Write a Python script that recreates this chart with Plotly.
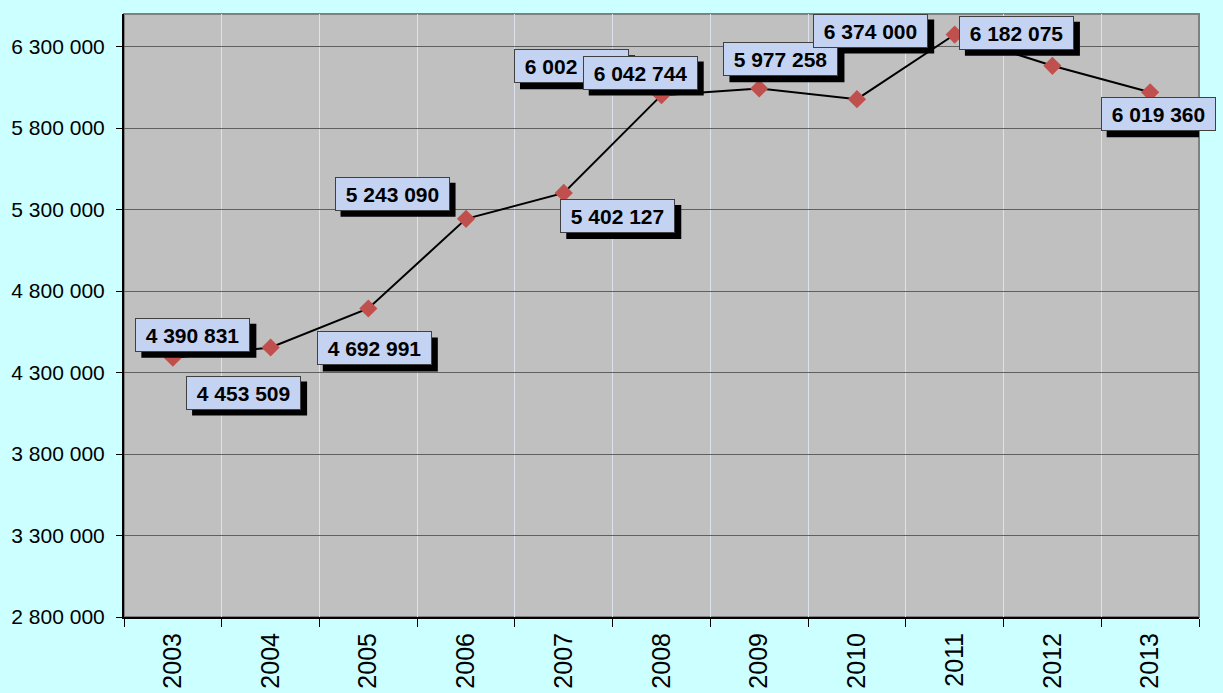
import plotly.graph_objects as go

years = ["2003", "2004", "2005", "2006", "2007", "2008", "2009", "2010", "2011", "2012", "2013"]
values = [4390831, 4453509, 4692991, 5243090, 5402127, 6002000, 6042744, 5977258, 6374000, 6182075, 6019360]
y_ticks = [2800000, 3300000, 3800000, 4300000, 4800000, 5300000, 5800000, 6300000]
y_range = [2800000, 6500000]

# label placement (pixel offsets of the label box centre from its point)
label_dx = [20, -27, 6, -74, 54, -90, -119, -76, -84, -36, 8]
label_dy = [23, -45, -40, 25, -23, 29, 16, 40, 4, 33, -22]

FONT = "Arial, Liberation Sans, sans-serif"
BOX_W, BOX_H, SHADOW = 115, 34, 6


def fmt(v):
    return f"{v:,}".replace(",", " ")


fig = go.Figure()
fig.add_trace(go.Scatter(
    x=years, y=values, mode="lines+markers",
    line=dict(color="black", width=2),
    marker=dict(symbol="diamond", size=14, color="#C0504D"),
    showlegend=False, hoverinfo="skip",
))

shapes = [dict(type="rect", xref="paper", yref="paper", x0=0, x1=1, y0=0, y1=1,
               line=dict(color="#808080", width=2), layer="below")]
for i, (v, dx, dy) in enumerate(zip(values, label_dx, label_dy)):
    cx, cy = dx + SHADOW, dy - SHADOW
    shapes.append(dict(type="rect", xref="x", yref="y",
                       xsizemode="pixel", ysizemode="pixel", xanchor=i, yanchor=v,
                       x0=cx - BOX_W / 2, x1=cx + BOX_W / 2,
                       y0=cy - BOX_H / 2, y1=cy + BOX_H / 2,
                       fillcolor="black", line=dict(width=0), layer="above"))
    fig.add_annotation(x=i, y=v, xref="x", yref="y", showarrow=False,
                       text="<b>" + fmt(v) + "</b>",
                       xshift=dx, yshift=dy, width=BOX_W - 6, height=BOX_H - 6,
                       bgcolor="#C5D3F2", bordercolor="#404040", borderwidth=1, borderpad=2,
                       font=dict(family=FONT, size=21, color="black"))

fig.update_layout(
    width=1223, height=693,
    margin=dict(l=124, r=24, t=14, b=76, autoexpand=False),
    paper_bgcolor="#CCFFFF", plot_bgcolor="#C0C0C0",
    separators=". ",
    shapes=shapes,
    font=dict(family=FONT, color="black"),
)
fig.update_xaxes(
    type="category", categoryorder="array", categoryarray=years,
    tickson="boundaries", ticks="outside", ticklen=8, tickcolor="black",
    showgrid=True, gridcolor="#DCE2EE", gridwidth=1,
    showline=True, linecolor="black", linewidth=2,
    tickangle=-90, tickfont=dict(family=FONT, size=25, color="black"),
    ticklabelstandoff=4, automargin=False,
    range=[-0.5, len(years) - 0.5],
)
fig.update_yaxes(
    range=y_range, tickvals=y_ticks, tickformat=",d",
    ticks="outside", ticklen=6, tickcolor="black",
    showgrid=True, gridcolor="#606060", gridwidth=1,
    showline=True, linecolor="black", linewidth=2, zeroline=False,
    tickfont=dict(family=FONT, size=21, color="black"),
    ticklabelstandoff=7, automargin=False,
)

fig.write_html("out.html", config={"displayModeBar": False},
               post_script="document.body.style.margin='0';document.body.style.background='#CCFFFF';")
